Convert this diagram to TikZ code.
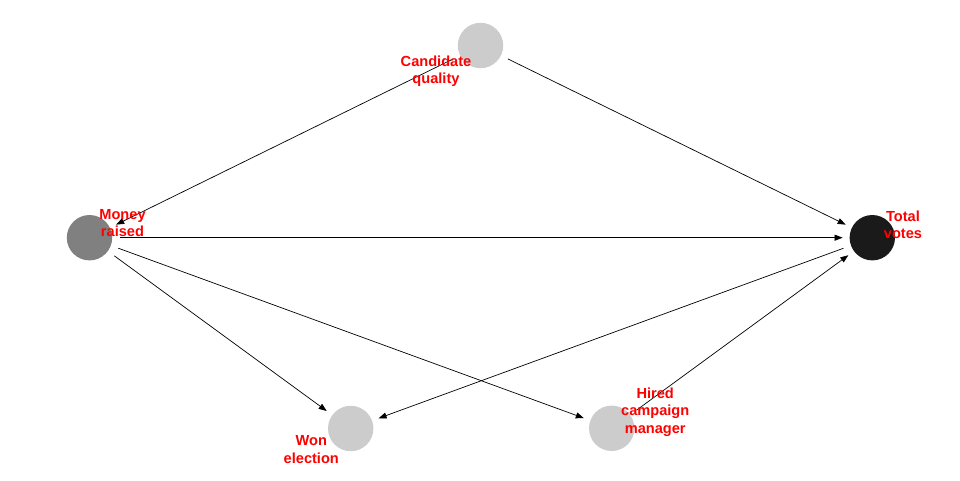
\documentclass[tikz,border=0pt]{standalone}
\usepackage{fontspec}
\setmainfont{Liberation Sans}
\usetikzlibrary{arrows.meta}
\definecolor{lightnode}{HTML}{CCCCCC}
\definecolor{midnode}{HTML}{808080}
\definecolor{darknode}{HTML}{1A1A1A}
\tikzset{
  vnode/.style={circle, draw=none, minimum size=45.4pt, inner sep=0pt, outer sep=0pt},
  vlabel/.style={text=red, font=\fontsize{14.6pt}{17.4pt}\selectfont\bfseries, align=center, inner sep=0pt},
  edge/.style={draw=black, line width=0.7pt, -{Triangle[length=8pt,width=6pt]}, shorten >=7pt, shorten <=8pt}
}
\begin{document}
\begin{tikzpicture}[x=1pt, y=-1pt]
\useasboundingbox (0,0) rectangle (960,480);
\fill[white] (0,0) rectangle (960,480);
% vertices
\node[vnode, fill=lightnode] (cq) at (480.5,45.5) {};
\node[vnode, fill=midnode]   (mr) at (89.5,237.7) {};
\node[vnode, fill=darknode]  (tv) at (872.3,237.7) {};
\node[vnode, fill=lightnode] (we) at (350.7,428.5) {};
\node[vnode, fill=lightnode] (hm) at (611.7,428.3) {};
% edges
\draw[edge] (cq) -- (mr);
\draw[edge] (cq) -- (tv);
\draw[edge] (mr) -- (tv);
\draw[edge] (mr) -- (we);
\draw[edge] (mr) -- (hm);
\draw[edge] (tv) -- (we);
\draw[edge] (hm) -- (tv);
% labels
\node[vlabel] (cql) at (436,71.5) {Candidate\\quality};
\node[vlabel] (mrl) at (122.5,223) {Money\\raised};
\node[vlabel] (tvl) at (903,224.5) {Total\\votes};
\node[vlabel] (wel) at (311.3,449.5) {Won\\election};
\node[vlabel] (hml) at (655.2,412) {Hired\\campaign\\manager};
\end{tikzpicture}
\end{document}
